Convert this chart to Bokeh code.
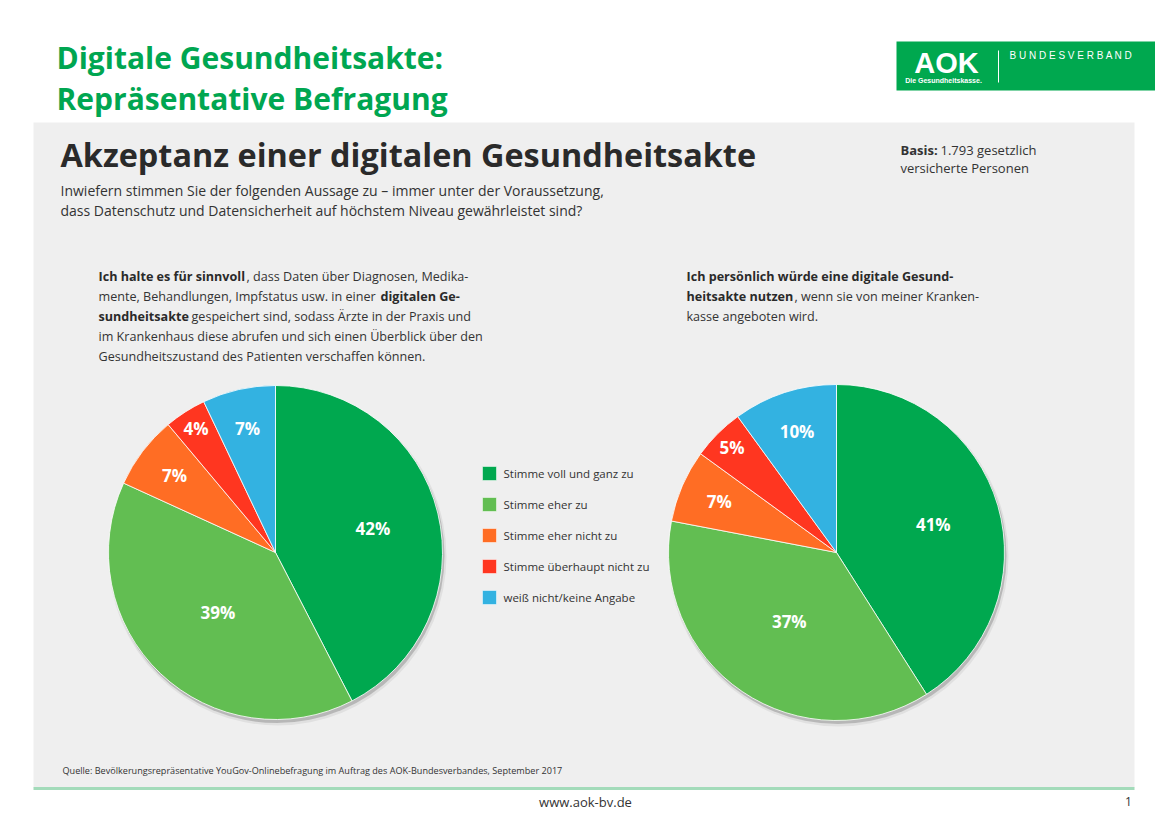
import math
from bokeh.plotting import figure
from bokeh.models import Range1d, ColumnDataSource
from bokeh.core.properties import value
from bokeh.embed import file_html
from bokeh.resources import INLINE

# ---------------- data ----------------
categories = ["Stimme voll und ganz zu", "Stimme eher zu", "Stimme eher nicht zu",
              "Stimme überhaupt nicht zu", "weiß nicht/keine Angabe"]
sinnvoll_values = [42, 39, 7, 4, 7]      # "Ich halte es für sinnvoll ..."
nutzen_values = [41, 37, 7, 5, 10]       # "Ich persönlich würde ... nutzen"
colors = ["#00A84F", "#62BE52", "#FF6D24", "#FF3620", "#33B2E1"]

W, H = 1155, 813
FONT = "Open Sans"
GREEN = "#00A651"
DARK = "#2A2A2A"
BODY = "#333333"


def Y(y):
    # reference pixel row -> data y
    return 821 - y


p = figure(width=W, height=H, x_range=Range1d(0, W), y_range=Range1d(821 - H, 821),
           output_backend="svg", toolbar_location=None, min_border=0,
           background_fill_color="white", border_fill_color="white")
p.axis.visible = False
p.grid.visible = False
p.outline_line_color = None


def txt(x, y, s, size, color=DARK, style="normal", align="left", baseline="middle", font=FONT):
    p.text(x=[x], y=[Y(y)], text=[s], text_font=value(font), text_font_size=f"{size}px",
           text_font_style=style, text_color=color, text_align=align, text_baseline=baseline)


# ---------------- page header ----------------
txt(56, 57, "Digitale Gesundheitsakte:", 30, GREEN, "bold", baseline="alphabetic")
txt(56, 98, "Repräsentative Befragung", 30, GREEN, "bold", baseline="alphabetic")

# AOK logo box
p.quad(left=[896], right=[1163], top=[Y(41)], bottom=[Y(90)], fill_color="#00A84F", line_color=None)
txt(946, 62, "AOK", 29, "white", "bold", align="center", font="Liberation Sans")
txt(943, 80, "Die Gesundheitskasse.", 7, "white", "bold", align="center", font="Liberation Sans")
p.segment(x0=[998], y0=[Y(50)], x1=[998], y1=[Y(82)], line_color="white", line_width=1)
txt(1009, 55, "B U N D E S V E R B A N D", 10, "white", "normal", font="Liberation Sans")

# grey panel + green rule
p.quad(left=[33], right=[1134], top=[Y(122)], bottom=[Y(787)], fill_color="#EFEFEF", line_color=None)
p.segment(x0=[33], y0=[Y(788)], x1=[1134], y1=[Y(788)], line_color="#A3DBBA", line_width=3)

# panel titles
txt(60, 153, "Akzeptanz einer digitalen Gesundheitsakte", 32.4, DARK, "bold")
txt(60, 190, "Inwiefern stimmen Sie der folgenden Aussage zu – immer unter der Voraussetzung,", 14, BODY)
txt(60, 210, "dass Datenschutz und Datensicherheit auf höchstem Niveau gewährleistet sind?", 14, BODY)
txt(900, 149, "Basis:", 13, BODY, "bold")
txt(940, 149, "1.793 gesetzlich", 13, BODY)
txt(900, 167, "versicherte Personen", 13, BODY)

# left question
fs = 12.6
txt(98, 276, "Ich halte es für sinnvoll", fs, DARK, "bold")
txt(246, 276, ", dass Daten über Diagnosen, Medika-", fs, BODY)
txt(98, 296, "mente, Behandlungen, Impfstatus usw. in einer", fs, BODY)
txt(380, 296, "digitalen Ge-", fs, DARK, "bold")
txt(98, 316, "sundheitsakte", fs, DARK, "bold")
txt(191, 316, "gespeichert sind, sodass Ärzte in der Praxis und", fs, BODY)
txt(98, 336, "im Krankenhaus diese abrufen und sich einen Überblick über den", fs, BODY)
txt(98, 356, "Gesundheitszustand des Patienten verschaffen können.", fs, BODY)

# right question
txt(686, 276, "Ich persönlich würde eine digitale Gesund-", fs, DARK, "bold")
txt(686, 296, "heitsakte nutzen", fs, DARK, "bold")
txt(794, 296, ", wenn sie von meiner Kranken-", fs, BODY)
txt(686, 316, "kasse angeboten wird.", fs, BODY)


# ---------------- pies ----------------
def pie(cx, cy, r, vals):
    total = float(sum(vals))
    # soft drop shadow
    p.circle(x=[cx + 2], y=[Y(cy) - 4], radius=r + 2, fill_color="#000000", fill_alpha=0.06, line_color=None)
    p.circle(x=[cx + 1.5], y=[Y(cy) - 3], radius=r + 0.5, fill_color="#000000", fill_alpha=0.18, line_color=None)
    starts, ends, lx, ly, labels = [], [], [], [], []
    cum = 0.0
    for i, v in enumerate(vals):
        a0 = math.pi / 2 - 2 * math.pi * cum / total
        a1 = math.pi / 2 - 2 * math.pi * (cum + v) / total
        mid = (a0 + a1) / 2
        if v >= 20:
            frac = 0.6 if i == 0 else 0.5
        else:
            frac = 0.88 if v <= 5 else 0.76
        starts.append(a0)
        ends.append(a1)
        lx.append(cx + frac * r * math.cos(mid))
        ly.append(Y(cy) + frac * r * math.sin(mid))
        labels.append(f"{v}%")
        cum += v
    src = ColumnDataSource(dict(start=starts, end=ends, color=colors, cat=categories))
    p.wedge(x=cx, y=Y(cy), radius=r, start_angle="start", end_angle="end", direction="clock",
            fill_color="color", line_color="white", line_width=1, line_alpha=0.8, source=src)
    p.text(x=lx, y=ly, text=labels, text_font=value(FONT), text_font_size="17px",
           text_font_style="bold", text_color="white", text_align="center", text_baseline="middle")


pie(275, 552, 167, sinnvoll_values)
pie(836, 552, 168, nutzen_values)

# ---------------- legend ----------------
leg_y = [473 + 31 * i for i in range(len(categories))]
p.rect(x=[489] * len(categories), y=[Y(v) for v in leg_y], width=14, height=14,
       fill_color=colors, line_color="#FFFFFF", line_alpha=0.5, line_width=1)
p.text(x=[503] * len(categories), y=[Y(v) for v in leg_y], text=categories,
       text_font=value(FONT), text_font_size="11.5px", text_color=BODY,
       text_baseline="middle", text_align="left")

# ---------------- footer ----------------
txt(62, 770, "Quelle: Bevölkerungsrepräsentative YouGov-Onlinebefragung im Auftrag des AOK-Bundesverbandes, September 2017",
    9.1, BODY)
txt(585, 801, "www.aok-bv.de", 13, BODY, align="center")
txt(1128, 801, "1", 12, BODY, align="center")

open("out.html", "w").write(file_html(p, INLINE))
